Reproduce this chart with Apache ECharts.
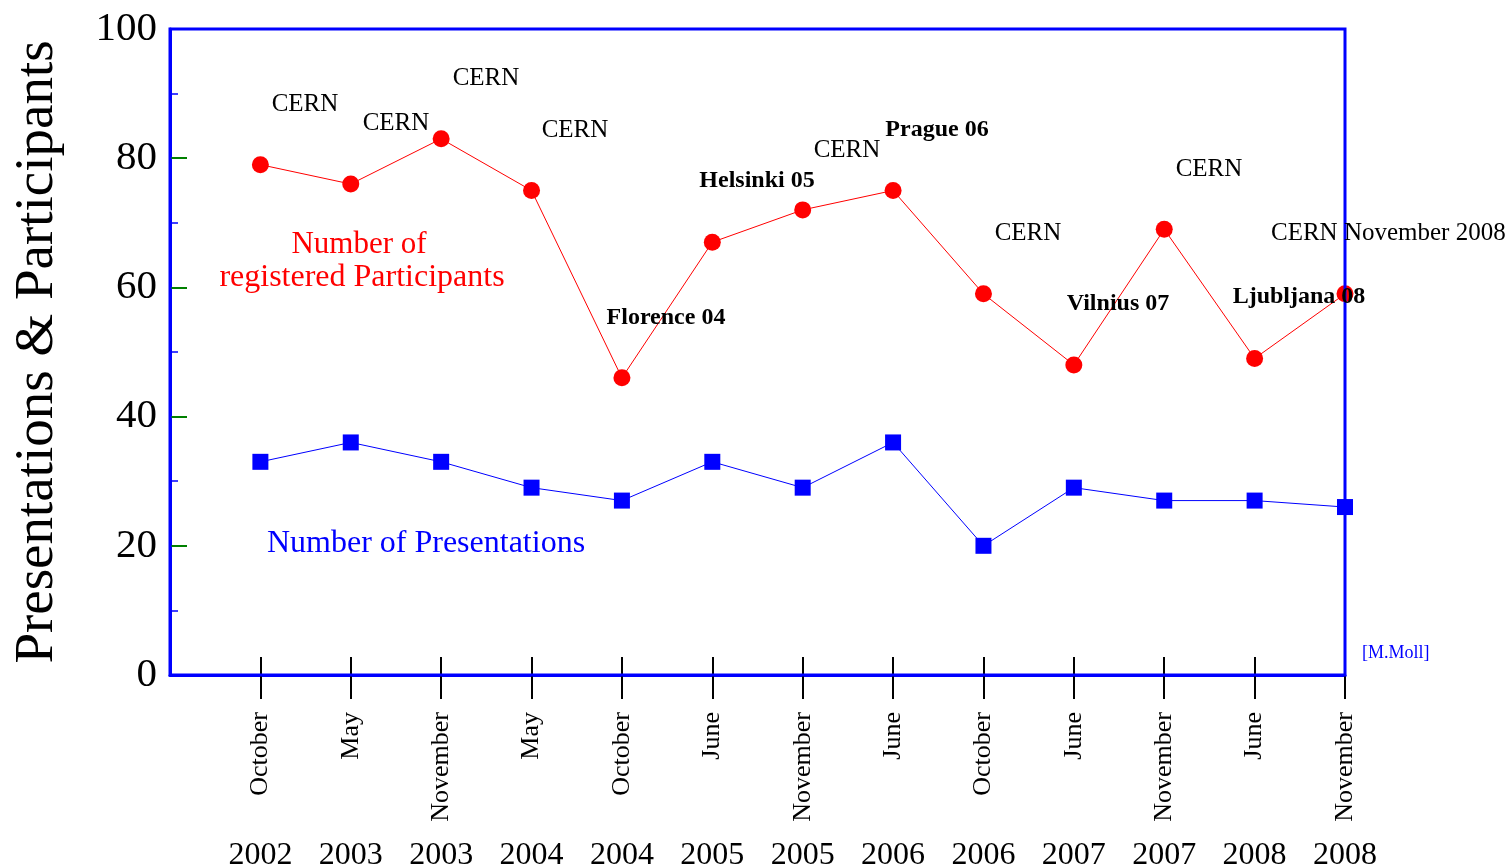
<!DOCTYPE html>
<html>
<head>
<meta charset="utf-8">
<script src="https://cdn.jsdelivr.net/npm/echarts@6/dist/echarts.min.js"></script>
<style>
html,body{margin:0;padding:0;background:#fff;}
#chart{width:1512px;height:866px;}
</style>
</head>
<body>
<div id="chart"></div>
<script>
const months = ['October','May','November','May','October','June','November','June','October','June','November','June','November'];
const years = ['2002','2003','2003','2004','2004','2005','2005','2006','2006','2007','2007','2008','2008'];
const participants = [79, 76, 83, 75, 46, 67, 72, 75, 59, 48, 69, 49, 59];
const presentations = [33, 36, 33, 29, 27, 33, 29, 36, 20, 29, 27, 27, 26];
const yTicks = [0, 20, 40, 60, 80, 100];

const FONT = 'Liberation Serif';
const idx = months.map((m, i) => i);

const chart = echarts.init(document.getElementById('chart'));

function txt(text, x, y, size, color, bold, align) {
  return {
    type: 'text', x: x, y: y, z: 100,
    style: {
      text: text,
      font: (bold ? 'bold ' : '') + size + 'px "' + FONT + '"',
      fill: color,
      textAlign: align || 'center',
      textVerticalAlign: 'middle'
    }
  };
}

const baseX = {
  type: 'value', min: -1, max: 12, interval: 1,
  splitLine: { show: false }
};

chart.setOption({
  animation: false,
  backgroundColor: '#ffffff',
  grid: {
    left: 170, right: 167, top: 29, bottom: 191,
    containLabel: false, outerBoundsMode: 'none',
    show: true, borderColor: '#0000ff', borderWidth: 3, z: 10
  },
  xAxis: [
    Object.assign({}, baseX, {
      position: 'bottom',
      axisLine: { show: true, onZero: false, lineStyle: { color: '#0000ff', width: 3 } },
      axisTick: { show: true, inside: true, length: 18, customValues: idx,
        lineStyle: { color: '#000', width: 2 } },
      axisLabel: { show: false }
    }),
    Object.assign({}, baseX, {
      position: 'bottom',
      axisLine: { show: false, onZero: false },
      axisTick: { show: true, inside: false, length: 24, customValues: idx,
        lineStyle: { color: '#000', width: 2 } },
      axisLabel: { show: true, rotate: 90, margin: 37, customValues: idx,
        fontFamily: FONT, fontSize: 26, color: '#000',
        formatter: v => months[v] || '' }
    }),
    Object.assign({}, baseX, {
      position: 'bottom',
      axisLine: { show: false, onZero: false },
      axisTick: { show: false },
      axisLabel: { show: true, margin: 165, customValues: idx,
        fontFamily: FONT, fontSize: 32, color: '#000',
        formatter: v => years[v] || '' }
    })
  ],
  yAxis: {
    type: 'value', min: 0, max: 100, interval: 20,
    name: 'Presentations & Participants',
    nameLocation: 'middle', nameRotate: 90, nameGap: 105,
    nameTextStyle: { fontFamily: FONT, fontSize: 55, color: '#000' },
    axisLine: { show: true, onZero: false, lineStyle: { color: '#0000ff', width: 3 } },
    axisTick: { show: true, inside: true, length: 17, lineStyle: { color: '#008000', width: 2 } },
    minorTick: { show: true, splitNumber: 2, length: 8, lineStyle: { color: '#0000ff', width: 1.5 } },
    axisLabel: { margin: 13, fontFamily: FONT, fontSize: 41, color: '#000',
      customValues: yTicks },
    splitLine: { show: false }
  },
  series: [
    {
      name: 'Participants', type: 'line', xAxisIndex: 0,
      data: participants.map((v, i) => [i, v]),
      symbol: 'circle', symbolSize: 17,
      itemStyle: { color: '#ff0000' },
      lineStyle: { color: '#ff0000', width: 1 },
      z: 5
    },
    {
      name: 'Presentations', type: 'line', xAxisIndex: 0,
      data: presentations.map((v, i) => [i, v]),
      symbol: 'rect', symbolSize: 16,
      itemStyle: { color: '#0000ff' },
      lineStyle: { color: '#0000ff', width: 1 },
      z: 5
    }
  ],
  graphic: [
    txt('CERN', 305, 104, 25, '#000', false),
    txt('CERN', 396, 123, 25, '#000', false),
    txt('CERN', 486, 78, 25, '#000', false),
    txt('CERN', 575, 130, 25, '#000', false),
    txt('Florence 04', 666, 318, 24, '#000', true),
    txt('Helsinki 05', 757, 181, 24, '#000', true),
    txt('CERN', 847, 150, 25, '#000', false),
    txt('Prague 06', 937, 130, 24, '#000', true),
    txt('CERN', 1028, 233, 25, '#000', false),
    txt('Vilnius 07', 1118, 304, 24, '#000', true),
    txt('CERN', 1209, 169, 25, '#000', false),
    txt('Ljubljana 08', 1299, 297, 24, '#000', true),
    txt('CERN November 2008', 1271, 233, 25, '#000', false, 'left'),
    txt('Number of', 359, 245, 31, '#ff0000', false),
    txt('registered Participants', 362, 278, 32, '#ff0000', false),
    txt('Number of Presentations', 426, 544, 32, '#0000ff', false),
    txt('[M.Moll]', 1362, 653, 18, '#0000ff', false, 'left')
  ]
});
</script>
</body>
</html>
